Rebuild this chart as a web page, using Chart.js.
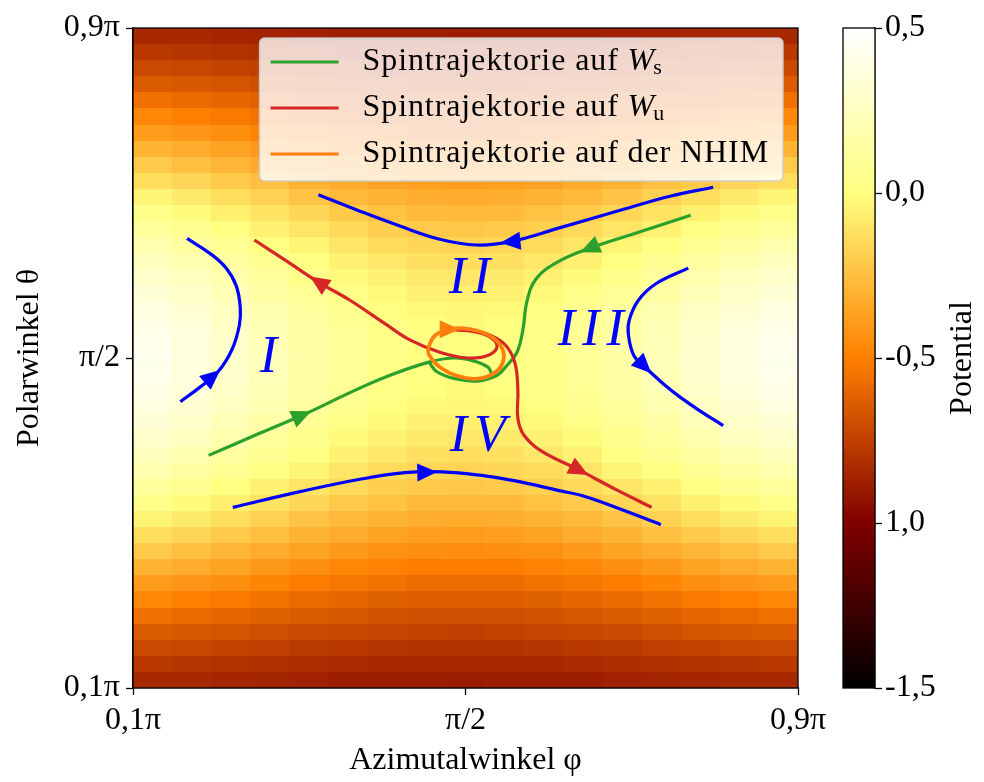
<!DOCTYPE html>
<html>
<head>
<meta charset="utf-8">
<script src="https://cdn.jsdelivr.net/npm/chart.js@4.4.1/dist/chart.umd.min.js"></script>
<style>
  body { margin: 0; background: #fff; }
  #wrap { position: relative; width: 984px; height: 782px; }
  #wrap canvas { position: absolute; left: 0; top: 0; }
</style>
</head>
<body>
<div id="wrap">
  <canvas id="main" width="984" height="782"></canvas>
  <canvas id="cbar" width="984" height="782"></canvas>
</div>
<script>
// axes (angles in units of pi)
const phiRange = [0.1, 0.9];
const thetaRange = [0.1, 0.9];
const axisTicks = [0.1, 0.5, 0.9];
const axisLabels = ["0,1π", "π/2", "0,9π"];

// colorbar
const cbRange = [-1.5, 0.5];
const cbTicks = [-1.5, -1.0, -0.5, 0.0, 0.5];
const cbLabels = ["-1,5", "1,0", "-0,5", "0,0", "0,5"];

// potential, one quadrant:
// rows go from the top/bottom edge to theta = pi/2, columns from the left/right edge to phi = pi/2
// (the map is mirror symmetric both ways)
const potGrid = [
  [-0.84, -0.84, -0.85, -0.86, -0.87, -0.88, -0.88, -0.88, -0.89],
  [-0.78, -0.79, -0.80, -0.81, -0.82, -0.83, -0.84, -0.84, -0.84],
  [-0.71, -0.72, -0.74, -0.75, -0.77, -0.78, -0.79, -0.80, -0.80],
  [-0.64, -0.65, -0.67, -0.69, -0.71, -0.72, -0.73, -0.74, -0.75],
  [-0.56, -0.58, -0.60, -0.62, -0.64, -0.66, -0.68, -0.69, -0.69],
  [-0.47, -0.50, -0.52, -0.55, -0.58, -0.60, -0.62, -0.63, -0.63],
  [-0.39, -0.41, -0.44, -0.48, -0.51, -0.53, -0.55, -0.57, -0.57],
  [-0.30, -0.33, -0.36, -0.40, -0.44, -0.47, -0.49, -0.51, -0.51],
  [-0.21, -0.25, -0.29, -0.33, -0.36, -0.40, -0.43, -0.44, -0.45],
  [-0.13, -0.16, -0.21, -0.25, -0.30, -0.33, -0.36, -0.38, -0.39],
  [-0.04, -0.08, -0.13, -0.18, -0.23, -0.27, -0.30, -0.32, -0.33],
  [ 0.04, -0.01, -0.06, -0.11, -0.16, -0.21, -0.24, -0.27, -0.27],
  [ 0.11,  0.07,  0.01, -0.05, -0.10, -0.15, -0.19, -0.21, -0.22],
  [ 0.18,  0.13,  0.08,  0.01, -0.04, -0.10, -0.14, -0.16, -0.17],
  [ 0.24,  0.19,  0.13,  0.07,  0.01, -0.05, -0.09, -0.12, -0.13],
  [ 0.30,  0.25,  0.18,  0.12,  0.05, -0.01, -0.05, -0.08, -0.09],
  [ 0.34,  0.29,  0.22,  0.15,  0.09,  0.03, -0.02, -0.05, -0.06],
  [ 0.38,  0.32,  0.26,  0.19,  0.12,  0.06,  0.01, -0.02, -0.03],
  [ 0.41,  0.35,  0.28,  0.21,  0.14,  0.08,  0.03,  0.00, -0.02],
  [ 0.42,  0.36,  0.30,  0.22,  0.15,  0.09,  0.04,  0.01,  0.00],
  [ 0.43,  0.37,  0.30,  0.23,  0.16,  0.09,  0.04,  0.01,  0.00]
];

// trajectories (phi, theta)
const blueTopPhi = [0.798, 0.746, 0.686, 0.614, 0.554, 0.513, 0.469, 0.421, 0.373, 0.323];
const blueTopTheta = [0.707, 0.696, 0.679, 0.658, 0.641, 0.637, 0.644, 0.660, 0.678, 0.698];
const blueBottomPhi = [0.220, 0.301, 0.373, 0.427, 0.472, 0.517, 0.560, 0.614, 0.641, 0.686, 0.735];
const blueBottomTheta = [0.319, 0.338, 0.353, 0.361, 0.362, 0.358, 0.351, 0.339, 0.333, 0.317, 0.298];
const blueLeftPhi = [0.157, 0.181, 0.202, 0.219, 0.228, 0.229, 0.224, 0.212, 0.195, 0.165];
const blueLeftTheta = [0.447, 0.465, 0.483, 0.510, 0.540, 0.562, 0.588, 0.609, 0.625, 0.645];
const blueRightPhi = [0.768, 0.729, 0.708, 0.697, 0.696, 0.703, 0.718, 0.740, 0.759, 0.782, 0.810];
const blueRightTheta = [0.609, 0.590, 0.570, 0.546, 0.528, 0.502, 0.487, 0.467, 0.452, 0.436, 0.418];

const greenLeftPhi = [0.191, 0.253, 0.309, 0.361, 0.404, 0.456, 0.487, 0.511, 0.527, 0.531];
const greenLeftTheta = [0.382, 0.409, 0.433, 0.458, 0.477, 0.495, 0.500, 0.496, 0.489, 0.482];
const greenRightPhi = [0.771, 0.710, 0.649, 0.610, 0.585, 0.574, 0.569, 0.562, 0.549, 0.538, 0.514, 0.487, 0.466, 0.456];
const greenRightTheta = [0.673, 0.653, 0.633, 0.616, 0.596, 0.569, 0.534, 0.507, 0.490, 0.479, 0.472, 0.475, 0.483, 0.495];

const redLeftPhi = [0.505, 0.527, 0.538, 0.529, 0.503, 0.469, 0.433, 0.404, 0.361, 0.323, 0.284, 0.246];
const redLeftTheta = [0.533, 0.527, 0.515, 0.504, 0.500, 0.507, 0.522, 0.541, 0.570, 0.592, 0.618, 0.643];
const redRightPhi = [0.487, 0.515, 0.537, 0.551, 0.560, 0.563, 0.563, 0.570, 0.590, 0.637, 0.680, 0.724];
const redRightTheta = [0.534, 0.532, 0.524, 0.512, 0.492, 0.461, 0.427, 0.407, 0.388, 0.364, 0.341, 0.319];

const nhimPhi = [0.455, 0.463, 0.481, 0.505, 0.529, 0.544, 0.545, 0.535, 0.515, 0.491, 0.469, 0.456, 0.455];
const nhimTheta = [0.512, 0.527, 0.535, 0.535, 0.527, 0.512, 0.495, 0.482, 0.475, 0.478, 0.489, 0.504, 0.512];

// legend + region names
const legendLabels = ["Spintrajektorie auf ", "Spintrajektorie auf ", "Spintrajektorie auf der NHIM"];
const legendSubs = ["s", "u", ""];
const regionNames = ["I", "II", "III", "IV"];
const regionPhi = [0.267, 0.509, 0.655, 0.519];
const regionTheta = [0.500, 0.595, 0.532, 0.404];

const serif = '"Liberation Serif", "DejaVu Serif", serif';
const BLUE = "#0000ff", GREEN = "#2ca02c", RED = "#d62728", ORANGE = "#ff7f0e";

function pts(xs, ys) {
  return xs.map((v, i) => ({ x: v, y: ys[i] }));
}

function line(xs, ys, color, arrowAt, width) {
  return {
    data: pts(xs, ys),
    showLine: true,
    borderColor: color,
    backgroundColor: color,
    borderWidth: width || 3.2,
    pointRadius: 0,
    tension: 0.4,
    arrowAt: arrowAt
  };
}

function afmhot(v) {
  let t = (v - cbRange[0]) / (cbRange[1] - cbRange[0]);
  const c = (a) => Math.round(255 * Math.min(1, Math.max(0, a)));
  return "rgb(" + c(2 * t) + "," + c(2 * t - 0.5) + "," + c(2 * t - 1) + ")";
}

const heatmapPlugin = {
  id: "heatmap",
  beforeDatasetsDraw(chart) {
    const { ctx, scales: { x, y } } = chart;
    const nRow = potGrid.length * 2 - 1;
    const nCol = potGrid[0].length * 2 - 1;
    const dT = (thetaRange[1] - thetaRange[0]) / nRow;
    const dP = (phiRange[1] - phiRange[0]) / nCol;
    ctx.save();
    for (let r = 0; r < nRow; r++) {
      const qr = r < potGrid.length ? r : nRow - 1 - r;
      const y0 = Math.round(y.getPixelForValue(thetaRange[0] + r * dT));
      const y1 = Math.round(y.getPixelForValue(thetaRange[0] + (r + 1) * dT));
      for (let c = 0; c < nCol; c++) {
        const qc = c < potGrid[0].length ? c : nCol - 1 - c;
        const x0 = Math.round(x.getPixelForValue(phiRange[0] + c * dP));
        const x1 = Math.round(x.getPixelForValue(phiRange[0] + (c + 1) * dP));
        ctx.fillStyle = afmhot(potGrid[qr][qc]);
        ctx.fillRect(x0, y1, x1 - x0, y0 - y1);
      }
    }
    ctx.restore();
  }
};

// arrow heads on the trajectories
const arrowPlugin = {
  id: "arrows",
  afterDatasetsDraw(chart) {
    const ctx = chart.ctx;
    chart.data.datasets.forEach((ds, di) => {
      if (ds.arrowAt == null) return;
      const els = chart.getDatasetMeta(di).data;
      const i = Math.floor(ds.arrowAt), f = ds.arrowAt - i;
      const a = els[i], b = els[i + 1];
      const px = a.x + f * (b.x - a.x), py = a.y + f * (b.y - a.y);
      const ang = Math.atan2(b.y - a.y, b.x - a.x);
      ctx.save();
      ctx.translate(px, py);
      ctx.rotate(ang);
      ctx.fillStyle = ds.borderColor;
      ctx.beginPath();
      ctx.moveTo(10, 0);
      ctx.lineTo(-10, -9);
      ctx.lineTo(-10, 9);
      ctx.closePath();
      ctx.fill();
      ctx.restore();
    });
  }
};

const regionPlugin = {
  id: "regions",
  afterDatasetsDraw(chart) {
    const { ctx, scales: { x, y } } = chart;
    ctx.save();
    ctx.fillStyle = BLUE;
    ctx.font = "italic 52px " + serif;
    ctx.textAlign = "center";
    ctx.textBaseline = "middle";
    ctx.letterSpacing = "7px";
    regionNames.forEach((t, i) => {
      ctx.fillText(t, x.getPixelForValue(regionPhi[i]), y.getPixelForValue(regionTheta[i]));
    });
    ctx.restore();
  }
};

const framePlugin = {
  id: "frame",
  afterDraw(chart) {
    const { ctx, chartArea: a } = chart;
    ctx.save();
    ctx.strokeStyle = "#000";
    ctx.lineWidth = 1.3;
    ctx.strokeRect(a.left, a.top, a.right - a.left, a.bottom - a.top);
    ctx.restore();
  }
};

const legendPlugin = {
  id: "boxLegend",
  afterDraw(chart) {
    const { ctx, chartArea: a } = chart;
    const colors = [GREEN, RED, ORANGE];
    ctx.save();
    ctx.letterSpacing = "0.9px";
    ctx.font = "32px " + serif;
    let tw = 0;
    legendLabels.forEach((t, i) => {
      let w = ctx.measureText(t).width;
      if (legendSubs[i]) {
        ctx.font = "italic 32px " + serif;
        w += ctx.measureText("W").width + 12;
        ctx.font = "32px " + serif;
      }
      tw = Math.max(tw, w);
    });
    const w = 103 + tw + 14, h = 143;
    const left = a.right - 15 - w, top = a.top + 10;
    ctx.fillStyle = "rgba(255,255,255,0.8)";
    ctx.strokeStyle = "rgba(204,204,204,0.9)";
    ctx.lineWidth = 1.5;
    ctx.beginPath();
    ctx.roundRect(left, top, w, h, 5);
    ctx.fill();
    ctx.stroke();
    ctx.textBaseline = "middle";
    legendLabels.forEach((t, i) => {
      const yy = top + 24 + i * 46;
      ctx.strokeStyle = colors[i];
      ctx.lineWidth = 3.2;
      ctx.beginPath();
      ctx.moveTo(left + 11, yy);
      ctx.lineTo(left + 79, yy);
      ctx.stroke();
      ctx.fillStyle = "#000";
      ctx.font = "32px " + serif;
      ctx.fillText(t, left + 103, yy);
      if (legendSubs[i]) {
        const xw = left + 103 + ctx.measureText(t).width;
        ctx.font = "italic 32px " + serif;
        ctx.fillText("W", xw, yy);
        const ww = ctx.measureText("W").width;
        ctx.font = "22px " + serif;
        ctx.fillText(legendSubs[i], xw + ww - 2, yy + 6);
      }
    });
    ctx.restore();
  }
};

Chart.defaults.font.family = serif;
Chart.defaults.font.size = 32;
Chart.defaults.color = "#000";

const axisStyle = {
  type: "linear",
  min: 0.1,
  max: 0.9,
  afterBuildTicks: (s) => { s.ticks = axisTicks.map((v) => ({ value: v })); },
  ticks: { callback: (v, i) => axisLabels[i], autoSkip: false, maxRotation: 0 },
  grid: { drawOnChartArea: false, tickLength: 7, color: "#000", tickWidth: 1.3 },
  border: { color: "#000", width: 1.3 }
};

new Chart(document.getElementById("main"), {
  type: "scatter",
  data: {
    datasets: [
      line(nhimPhi, nhimTheta, ORANGE, 2.0, 3.8),
      line(redLeftPhi, redLeftTheta, RED, 9.0),
      line(redRightPhi, redRightTheta, RED, 9.0),
      line(greenLeftPhi, greenLeftTheta, GREEN, 1.9),
      line(greenRightPhi, greenRightTheta, GREEN, 2.0),
      line(blueTopPhi, blueTopTheta, BLUE, 4.0),
      line(blueBottomPhi, blueBottomTheta, BLUE, 3.6),
      line(blueLeftPhi, blueLeftTheta, BLUE, 1.7),
      line(blueRightPhi, blueRightTheta, BLUE, 5.8)
    ]
  },
  options: {
    responsive: false,
    animation: false,
    devicePixelRatio: 1,
    layout: { padding: { left: 0, top: 28, right: 186, bottom: 0 } },
    plugins: { legend: { display: false }, tooltip: { enabled: false } },
    scales: {
      x: Object.assign({}, axisStyle, {
        afterFit: (s) => { s.height = 94; },
        ticks: Object.assign({}, axisStyle.ticks, { padding: 6 }),
        title: { display: true, text: "Azimutalwinkel φ", padding: { top: 0, bottom: 2 } }
      }),
      y: Object.assign({}, axisStyle, {
        afterFit: (s) => { s.width = 133; },
        ticks: Object.assign({}, axisStyle.ticks, { padding: 6 }),
        title: { display: true, text: "Polarwinkel θ", padding: { top: 10, bottom: 0 } }
      })
    }
  },
  plugins: [heatmapPlugin, arrowPlugin, regionPlugin, framePlugin, legendPlugin]
});

const colorbarPlugin = {
  id: "colorbar",
  beforeDatasetsDraw(chart) {
    const { ctx, chartArea: a, scales: { y } } = chart;
    const g = ctx.createLinearGradient(0, y.getPixelForValue(cbRange[0]), 0, y.getPixelForValue(cbRange[1]));
    [0, 0.25, 0.5, 0.75, 1].forEach((t) => {
      g.addColorStop(t, afmhot(cbRange[0] + t * (cbRange[1] - cbRange[0])));
    });
    ctx.save();
    ctx.fillStyle = g;
    ctx.fillRect(a.left, a.top, a.right - a.left, a.bottom - a.top);
    ctx.strokeStyle = "#000";
    ctx.lineWidth = 1.3;
    ctx.strokeRect(a.left, a.top, a.right - a.left, a.bottom - a.top);
    ctx.translate(a.right + 88, (a.top + a.bottom) / 2);
    ctx.rotate(-Math.PI / 2);
    ctx.fillStyle = "#000";
    ctx.font = "32px " + serif;
    ctx.textAlign = "center";
    ctx.textBaseline = "middle";
    ctx.fillText("Potential", 0, 0);
    ctx.restore();
  }
};

new Chart(document.getElementById("cbar"), {
  type: "scatter",
  data: { datasets: [] },
  options: {
    responsive: false,
    animation: false,
    devicePixelRatio: 1,
    layout: { padding: { left: 843, top: 28, right: 0, bottom: 94 } },
    plugins: { legend: { display: false }, tooltip: { enabled: false } },
    scales: {
      x: { display: false, min: 0, max: 1 },
      y: {
        position: "right",
        min: cbRange[0],
        max: cbRange[1],
        afterBuildTicks: (s) => { s.ticks = cbTicks.map((v) => ({ value: v })); },
        afterFit: (s) => { s.width = 109; },
        ticks: { callback: (v, i) => cbLabels[i], autoSkip: false, padding: 3 },
        grid: { drawOnChartArea: false, tickLength: 7, color: "#000", tickWidth: 1.3 },
        border: { color: "#000", width: 1.3 }
      }
    }
  },
  plugins: [colorbarPlugin]
});
</script>
</body>
</html>
